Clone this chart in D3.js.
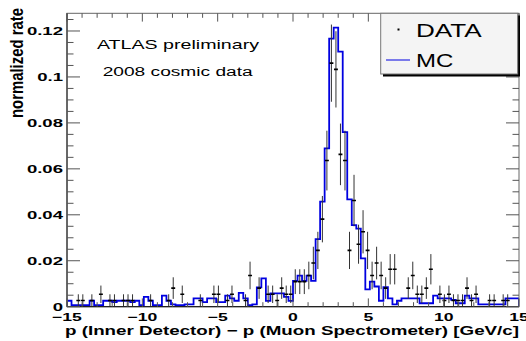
<!DOCTYPE html>
<html><head><meta charset="utf-8">
<script src="https://cdn.jsdelivr.net/npm/d3@7"></script>
<style>body{margin:0;background:#fff}svg{display:block}</style>
</head><body><svg id="c" width="526" height="341"></svg>
<script>
// ---------- data ----------
const xMin = -15, xMax = 15, binWidth = 0.3;
const yMax = 0.1277;
const mcValues = [
 0.0026,0.0007,0.0007,0.0007,0.0007,0.0026,0.0007,0.0007,0.0026,0.0026,
 0.0020,0.0026,0.0026,0.0026,0.0020,0.0026,0.0007,0.0043,0.0026,0.0007,
 0.0007,0.0048,0.0026,0.0010,0.0007,0.0007,0.0010,0.0010,0.0036,0.0036,
 0.0020,0.0036,0.0036,0.0020,0.0020,0.0048,0.0036,0.0026,0.0060,0.0036,
 0.0007,0.0010,0.0084,0.0123,0.0025,0.0058,0.0058,0.0058,0.0043,0.0025,
 0.0112,0.0135,0.0112,0.0135,0.0112,0.0294,0.0457,0.0689,0.1167,0.1215,
 0.1110,0.0760,0.0467,0.0355,0.0340,0.0210,0.0075,0.0109,0.0088,0.0026,
 0.0085,0.0036,0.0010,0.0026,0.0036,0.0036,0.0036,0.0036,0.0015,0.0015,
 0.0015,0.0048,0.0036,0.0036,0.0036,0.0030,0.0015,0.0015,0.0048,0.0036,
 0.0036,0.0010,0.0010,0.0010,0.0010,0.0010,0.0010,0.0036,0.0036,0.0036
];
const dataX = [
 -14.25,-13.95,-13.35,-12.75,-12.15,-11.85,-11.25,-10.95,-10.65,-9.45,
 -8.25,-7.95,-7.35,-6.15,-5.25,-4.95,-4.35,-4.05,-3.15,-2.85,
 -2.25,-1.65,-1.35,-1.05,-0.75,-0.45,-0.15,0.15,0.45,0.75,
 1.05,1.35,1.65,1.95,2.25,2.55,2.85,3.15,3.45,3.75,
 4.05,4.35,4.65,4.95,5.25,5.55,5.85,6.15,6.45,6.75,
 7.65,7.95,8.25,8.55,8.85,9.15,9.75,10.05,10.35,10.65,
 10.95,11.25,11.55,11.85,12.15,13.05,13.35,13.95,14.25
];
const dataValues = [
 0.0027,0.0027,0.0027,0.0054,0.0027,0.0027,0.0027,0.0027,0.0027,0.0027,
 0.0027,0.0081,0.0054,0.0027,0.0054,0.0054,0.0027,0.0054,0.0027,0.0136,
 0.0081,0.0054,0.0054,0.0027,0.0081,0.0054,0.0054,0.0109,0.0109,0.0109,
 0.0136,0.0190,0.0245,0.0381,0.0636,0.1060,0.1033,0.0663,0.0636,0.0245,
 0.0462,0.0272,0.0326,0.0245,0.0136,0.0190,0.0136,0.0081,0.0163,0.0163,
 0.0081,0.0136,0.0054,0.0054,0.0081,0.0163,0.0054,0.0027,0.0054,0.0027,
 0.0027,0.0027,0.0081,0.0027,0.0054,0.0027,0.0027,0.0027,0.0027
];
const dataErrors = [
 0.0027,0.0027,0.0027,0.0038,0.0027,0.0027,0.0027,0.0027,0.0027,0.0027,
 0.0027,0.0047,0.0038,0.0027,0.0038,0.0038,0.0027,0.0038,0.0027,0.0060,
 0.0047,0.0038,0.0038,0.0027,0.0047,0.0038,0.0038,0.0054,0.0054,0.0054,
 0.0060,0.0071,0.0081,0.0101,0.0130,0.0168,0.0166,0.0134,0.0130,0.0081,
 0.0112,0.0085,0.0094,0.0081,0.0060,0.0071,0.0060,0.0047,0.0066,0.0066,
 0.0047,0.0060,0.0038,0.0038,0.0047,0.0066,0.0038,0.0027,0.0038,0.0027,
 0.0027,0.0027,0.0047,0.0027,0.0038,0.0027,0.0027,0.0027,0.0027
];
const xTickValues = [-15,-10,-5,0,5,10,15];
const yTickValues = [0,0.02,0.04,0.06,0.08,0.1,0.12];
const legendLabels = ["DATA","MC"];
const infoLines = ["ATLAS preliminary","2008 cosmic data"];
const xTitle = "p (Inner Detector) \u2212 p (Muon Spectrometer) [GeV/c]";
const yTitle = "normalized rate";

// ---------- layout ----------
const L = 67, R = 519, T = 13.3, B = 306.7;
const SX = 1.6; // horizontal glyph stretch seen in reference
const svg = d3.select("#c");
const font = "'Liberation Sans', Arial, Helvetica, sans-serif";
const x = d3.scaleLinear().domain([xMin, xMax]).range([L, R]);
const y = d3.scaleLinear().domain([0, yMax]).range([B, T]);

svg.append("defs").append("clipPath").attr("id","pc")
  .append("rect").attr("x",L).attr("y",T).attr("width",R-L).attr("height",B-T);

// ---------- MC histogram ----------
const edges = d3.range(mcValues.length + 1).map(i => xMin + i * binWidth);
let p = d3.path();
p.moveTo(x(edges[0]), y(0));
mcValues.forEach((v,i) => { p.lineTo(x(edges[i]), y(v)); p.lineTo(x(edges[i+1]), y(v)); });
p.lineTo(x(edges[edges.length-1]), y(0));
svg.append("path").attr("d", p.toString()).attr("fill","none")
  .attr("stroke","#0000e0").attr("stroke-width",1.8).attr("clip-path","url(#pc)");

// ---------- data points ----------
const dg = svg.append("g").attr("clip-path","url(#pc)");
dataX.forEach((c,i) => {
  const v = dataValues[i], e = dataErrors[i];
  dg.append("line").attr("x1",x(c)).attr("x2",x(c))
    .attr("y1",y(Math.max(0,v-e))).attr("y2",y(v+e))
    .attr("stroke","#333").attr("stroke-width",1);
  dg.append("line").attr("x1",x(c-binWidth/2)+0.3).attr("x2",x(c+binWidth/2)-0.3)
    .attr("y1",y(v)).attr("y2",y(v)).attr("stroke","#000").attr("stroke-width",1.6);
});

// ---------- axes (ROOT style frame) ----------
const tickCol = "#555";
const ax = svg.append("g").attr("stroke", tickCol).attr("fill","none");
ax.append("rect").attr("x",L).attr("y",T).attr("width",R-L).attr("height",B-T)
  .attr("stroke","#666").attr("stroke-width",1);
ax.append("line").attr("x1",L).attr("x2",L).attr("y1",T).attr("y2",B).attr("stroke","#555").attr("stroke-width",1.6);
ax.append("line").attr("x1",L).attr("x2",R).attr("y1",B).attr("y2",B).attr("stroke","#222").attr("stroke-width",1.2);

const xMinor = d3.range(xMin, xMax + 0.001, 1);
xMinor.forEach(t => {
  const major = xTickValues.includes(t);
  const len = major ? 8.3 : 4.5;
  ax.append("line").attr("x1",x(t)).attr("x2",x(t)).attr("y1",B).attr("y2",B-len).attr("stroke-width",1);
  ax.append("line").attr("x1",x(t)).attr("x2",x(t)).attr("y1",T).attr("y2",T+len).attr("stroke-width",1);
});
const yMinor = d3.range(0, yMax, 0.005);
yMinor.forEach(t => {
  const major = yTickValues.some(m => Math.abs(m - t) < 1e-9);
  const len = major ? 13 : 6.5;
  ax.append("line").attr("x1",L).attr("x2",L+len).attr("y1",y(t)).attr("y2",y(t)).attr("stroke-width",1);
  ax.append("line").attr("x1",R).attr("x2",R-len).attr("y1",y(t)).attr("y2",y(t)).attr("stroke-width",1);
});

// tick labels
const fmtX = d3.format("d");
xTickValues.forEach(t => {
  svg.append("text").attr("transform",`translate(${x(t)},320.6) scale(${SX},1)`)
    .attr("text-anchor","middle").attr("font-family",font).attr("font-weight","bold")
    .attr("font-size",11).attr("fill","#000").text(fmtX(t));
});
yTickValues.forEach(t => {
  const s = t === 0 ? "0" : String(+t.toFixed(2));
  svg.append("text").attr("transform",`translate(63,${y(t)+4.2}) scale(${SX},1)`)
    .attr("text-anchor","end").attr("font-family",font).attr("font-weight","bold")
    .attr("font-size",11.6).attr("fill","#000").text(s);
});

// axis titles
svg.append("text").attr("x",65).attr("y",334.5).attr("font-family",font).attr("font-weight","bold")
  .attr("font-size",12.4).attr("textLength",454).attr("lengthAdjust","spacingAndGlyphs").text(xTitle);
svg.append("text").attr("transform","translate(22.5,118) scale(1.3,1) rotate(-90)")
  .attr("font-family",font).attr("font-weight","bold").attr("font-size",14)
  .attr("textLength",110).attr("lengthAdjust","spacingAndGlyphs").text(yTitle);

// info text
svg.append("text").attr("x",97).attr("y",48.5).attr("font-family",font).attr("font-size",12.8)
  .attr("textLength",162).attr("lengthAdjust","spacingAndGlyphs").text(infoLines[0]);
svg.append("text").attr("x",102.7).attr("y",75.5).attr("font-family",font).attr("font-size",12)
  .attr("textLength",150).attr("lengthAdjust","spacingAndGlyphs").text(infoLines[1]);

// legend
const lg = svg.append("g");
lg.append("rect").attr("x",383).attr("y",15.5).attr("width",137).attr("height",61).attr("fill","#000");
lg.append("rect").attr("x",380.7).attr("y",13.3).attr("width",137).attr("height",60.7)
  .attr("fill","#f4f4f4").attr("stroke","#777").attr("stroke-width",1);
lg.append("rect").attr("x",397.5).attr("y",28.5).attr("width",2).attr("height",2).attr("fill","#000");
lg.append("line").attr("x1",386).attr("x2",410).attr("y1",60).attr("y2",60).attr("stroke","#0000e0").attr("stroke-width",1);
lg.append("text").attr("x",416).attr("y",36.7).attr("font-family",font).attr("font-size",17.7)
  .attr("textLength",65.7).attr("lengthAdjust","spacingAndGlyphs").text(legendLabels[0]);
lg.append("text").attr("x",416).attr("y",66.7).attr("font-family",font).attr("font-size",17.7)
  .attr("textLength",37.3).attr("lengthAdjust","spacingAndGlyphs").text(legendLabels[1]);
</script></body></html>
